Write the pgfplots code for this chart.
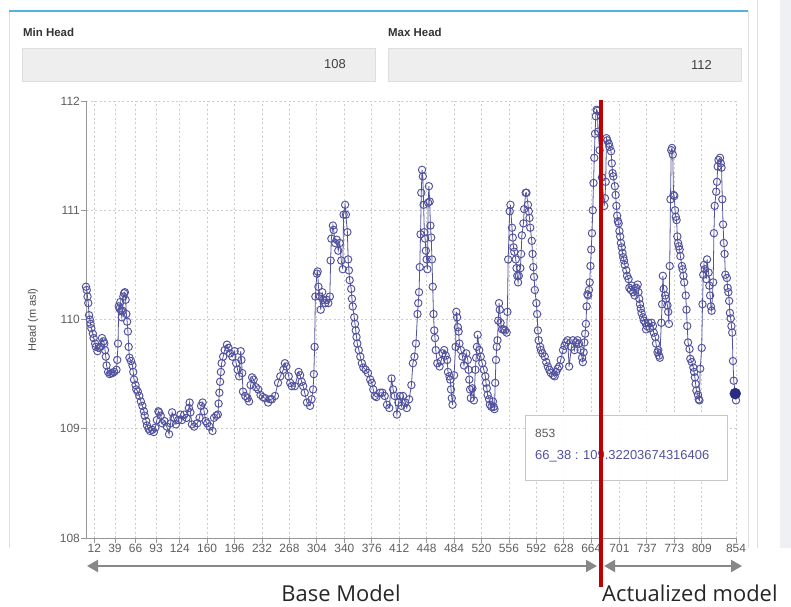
\documentclass[border=0pt]{standalone}
\usepackage{fontspec}
\setmainfont{Liberation Sans}
\newfontfamily\osans{Open Sans}
\usepackage{pgfplots}
\usepackage{pgfplotstable}
\pgfplotsset{compat=1.18}
\usetikzlibrary{arrows.meta}

\definecolor{ser}{RGB}{82,82,158}
\definecolor{hov}{RGB}{40,44,130}
\definecolor{redl}{RGB}{192,0,0}
\definecolor{gridc}{RGB}{205,205,205}
\definecolor{axc}{RGB}{150,150,150}
\definecolor{tickc}{RGB}{95,95,95}
\definecolor{cyanl}{RGB}{80,180,220}
\definecolor{boxf}{RGB}{238,238,238}
\definecolor{boxd}{RGB}{222,222,222}
\definecolor{stripc}{RGB}{238,240,244}
\definecolor{arrc}{RGB}{135,135,135}

% head of well 66_38, one row per point index
\pgfplotstableread{
i y
1 110.30
2 110.27
3 110.21
4 110.15
5 110.04
6 110.00
7 109.96
8 109.92
10 109.87
11 109.83
13 109.78
14 109.75
16 109.71
18 109.74
20 109.75
22 109.83
24 109.80
25 109.78
26 109.72
27 109.66
28 109.58
30 109.52
32 109.50
34 109.51
36 109.51
38 109.52
41 109.54
42 109.63
43 109.78
44 110.12
45 110.10
46 110.16
47 110.08
48 110.02
49 110.08
50 110.21
51 110.24
52 110.25
53 110.18
54 110.05
55 109.98
56 109.89
57 109.75
58 109.65
60 109.62
62 109.58
63 109.52
64 109.45
66 109.40
67 109.36
69 109.34
71 109.30
73 109.25
75 109.21
77 109.16
78 109.12
80 109.07
81 109.03
83 109.00
85 108.98
88 108.99
90 108.97
92 109.01
94 109.08
96 109.16
97 109.15
99 109.12
101 109.05
104 109.07
107 109.02
110 108.95
112 109.05
114 109.15
116 109.10
119 109.04
122 109.08
125 109.13
127 109.08
130 109.13
133 109.10
136 109.19
137 109.24
138 109.15
140 109.04
143 109.02
147 109.05
150 109.10
152 109.21
154 109.24
156 109.16
158 109.07
160 109.05
163 109.02
167 108.98
169 109.10
172 109.12
174 109.13
175 109.23
176 109.33
177 109.43
178 109.52
179 109.60
181 109.66
183 109.72
186 109.77
188 109.74
190 109.69
193 109.66
196 109.71
198 109.60
200 109.54
202 109.48
204 109.71
205 109.63
206 109.51
207 109.34
210 109.30
213 109.28
215 109.25
217 109.40
219 109.47
221 109.45
224 109.38
227 109.36
230 109.31
233 109.29
236 109.28
240 109.24
243 109.27
245 109.27
249 109.30
253 109.42
256 109.48
260 109.54
262 109.60
264 109.57
267 109.48
269 109.42
271 109.39
275 109.39
280 109.52
282 109.49
284 109.43
286 109.39
288 109.33
291 109.24
295 109.21
297 109.27
299 109.36
300 109.50
301 109.75
302 110.21
304 110.42
305 110.44
306 110.30
308 110.21
309 110.09
311 110.25
312 110.18
315 110.15
317 110.18
319 110.15
321 110.21
322 110.54
323 110.74
325 110.86
326 110.82
328 110.70
330 110.73
332 110.63
334 110.70
336 110.54
338 110.46
339 110.96
341 111.05
342 110.96
344 110.80
345 110.55
346 110.45
347 110.36
349 110.28
350 110.19
351 110.12
353 110.02
354 109.96
355 109.90
356 109.84
357 109.78
359 109.72
361 109.66
363 109.60
365 109.56
368 109.54
371 109.51
374 109.45
376 109.42
378 109.36
380 109.30
382 109.29
387 109.33
390 109.33
393 109.30
396 109.22
399 109.19
402 109.46
404 109.36
406 109.30
409 109.13
411 109.24
413 109.30
415 109.21
417 109.30
420 109.24
422 109.19
425 109.27
428 109.40
430 109.60
432 109.66
434 109.78
436 110.05
437 110.15
438 110.25
439 110.48
440 110.78
441 111.16
442 111.37
443 111.31
444 111.05
445 110.80
446 110.74
447 110.63
448 110.55
449 110.46
450 111.07
451 111.22
452 111.08
453 110.86
454 110.75
455 110.55
456 110.30
457 110.05
458 109.90
459 109.83
460 109.72
462 109.60
465 109.57
467 109.62
469 109.69
471 109.72
473 109.67
475 109.63
476 109.52
478 109.48
479 109.45
480 109.36
481 109.28
482 109.22
484 109.49
486 109.75
487 110.07
488 110.02
489 109.93
490 109.89
491 109.78
493 109.72
495 109.66
497 109.58
500 109.69
502 109.63
503 109.54
504 109.45
505 109.36
506 109.28
508 109.37
510 109.26
512 109.54
513 109.65
514 109.75
515 109.86
517 109.72
519 109.66
521 109.60
523 109.54
525 109.48
526 109.42
527 109.37
528 109.31
530 109.27
531 109.22
533 109.20
535 109.25
536 109.20
537 109.18
538 109.42
539 109.63
540 109.75
541 109.81
542 109.99
543 110.15
544 110.09
545 109.97
547 109.91
549 109.91
551 109.90
553 109.88
554 110.07
555 110.55
557 110.99
558 111.05
560 110.84
561 110.75
562 110.66
563 110.62
565 110.55
566 110.47
567 110.40
568 110.34
569 110.40
571 110.47
572 110.60
573 110.77
575 110.88
576 111.01
578 111.16
579 111.16
581 111.05
582 110.99
583 110.93
584 110.84
586 110.72
587 110.60
588 110.48
589 110.39
590 110.27
592 110.15
593 110.05
594 109.90
595 109.81
597 109.75
598 109.72
600 109.69
603 109.66
605 109.61
607 109.57
609 109.54
611 109.51
614 109.49
616 109.48
618 109.52
620 109.55
622 109.57
624 109.63
627 109.72
629 109.76
631 109.79
633 109.81
635 109.57
638 109.75
640 109.81
642 109.72
644 109.79
646 109.81
648 109.78
650 109.72
652 109.65
653 109.61
654 109.70
655 109.79
656 109.87
657 109.96
658 110.12
659 110.23
660 110.22
661 110.27
662 110.34
663 110.49
664 110.64
665 110.79
666 111.00
667 111.25
668 111.48
669 111.70
670 111.86
671 111.92
672 111.91
673 111.72
675 111.55
678 111.30
681 111.04
682 111.11
683 111.26
684 111.66
685 111.64
687 111.61
688 111.58
690 111.54
691 111.43
692 111.34
693 111.31
695 111.22
696 111.14
697 111.04
698 110.95
699 110.90
700 110.88
701 110.81
702 110.76
703 110.70
704 110.66
705 110.61
706 110.57
707 110.54
708 110.50
710 110.45
711 110.40
713 110.37
714 110.29
716 110.27
717 110.31
719 110.25
721 110.22
723 110.29
725 110.32
726 110.25
727 110.19
728 110.14
729 110.10
730 110.06
732 110.02
733 109.99
735 109.97
736 109.91
737 109.94
739 109.97
741 109.92
743 109.97
745 109.94
746 109.88
748 109.84
749 109.78
751 109.70
752 109.72
753 109.67
754 109.65
756 109.97
757 110.14
758 110.40
759 110.28
761 110.22
762 110.19
764 110.13
765 110.07
766 109.96
767 110.49
768 111.10
769 111.55
770 111.57
771 111.51
772 111.14
773 111.13
774 111.00
775 110.94
776 110.91
777 110.76
778 110.70
779 110.67
780 110.64
781 110.58
783 110.49
784 110.46
785 110.40
786 110.34
788 110.22
789 110.09
790 109.94
791 109.79
793 109.73
794 109.64
796 109.61
798 109.56
799 109.52
800 109.47
801 109.41
802 109.35
804 109.31
805 109.27
806 109.26
807 109.55
809 109.74
810 110.14
811 110.41
812 110.50
813 110.46
815 110.37
816 110.55
818 110.43
819 110.31
820 110.22
821 110.12
822 110.08
824 110.34
825 110.79
826 111.04
828 111.17
829 111.26
830 111.40
831 111.46
833 111.48
834 111.43
835 111.39
836 111.10
837 110.87
838 110.70
839 110.60
840 110.41
842 110.38
843 110.29
844 110.25
845 110.17
846 110.06
847 110.01
848 109.94
849 109.88
850 109.62
851 109.44
853 109.32
854 109.26
}\headdata

\begin{document}
\begin{tikzpicture}
% page furniture, in screen pixels (y downwards)
\begin{scope}[x=1bp,y=-1bp]
\useasboundingbox (0,0) rectangle (791,607);
\fill[white] (0,0) rectangle (791,607);
\fill[stripc] (780,0) rectangle (791,548);
\draw[boxd] (757,0) -- (757,548);
\draw[boxd] (9,11) -- (9,548);
\draw[boxd] (748,11) -- (748,548);
\draw[cyanl, line width=2bp] (9,11) -- (748,11);
\node[anchor=base west, inner sep=0, text=black!80,
      font=\bfseries\fontsize{11.5}{13}\selectfont] at (23,37) {Min Head};
\node[anchor=base west, inner sep=0, text=black!80,
      font=\bfseries\fontsize{11.5}{13}\selectfont] at (388,37) {Max Head};
\filldraw[fill=boxf, draw=boxd] (22,48) rectangle (375,81);
\filldraw[fill=boxf, draw=boxd] (388,48) rectangle (741,81);
\node[anchor=east, inner sep=0, text=black!75, font=\fontsize{13}{15}\selectfont]
     at (346,64.5) {108};
\node[anchor=east, inner sep=0, text=black!75, font=\fontsize{13}{15}\selectfont]
     at (712,64.5) {112};
\node[rotate=90, inner sep=0, text=black!70, font=\fontsize{11}{13}\selectfont]
     at (33,320) {Head (m asl)};
\end{scope}

\begin{axis}[
    at={(86bp,-538bp)}, anchor=south west,
    scale only axis, width=650bp, height=437bp,
    xmin=1, xmax=854, ymin=108, ymax=112,
    axis x line*=bottom, axis y line*=left,
    axis line style={axc, line width=0.8bp},
    xtick={12,39,66,93,124,160,196,232,268,304,340,376,412,448,484,520,556,592,628,664,701,737,773,809,854},
    ytick={108,109,110,111,112},
    tick align=outside, major tick length=5bp,
    tick style={axc, line width=0.8bp},
    grid=major,
    major grid style={gridc, line width=0.8bp, dash pattern=on 2bp off 2.5bp},
    /pgf/number format/assume math mode=true,
    /pgf/number format/1000 sep={},
    ticklabel style={font=\fontsize{12}{14}\selectfont, text=tickc},
    xticklabel style={inner sep=1bp},
    yticklabel style={inner sep=1bp},
    clip=false,
]
\addplot[ser, line width=0.8bp, mark=o, mark size=3.7bp,
         mark options={fill=white, draw=ser, line width=0.95bp}]
    table[x=i, y=y] {\headdata};
\addplot[hov, mark=*, mark size=5.5bp, only marks,
         mark options={fill=hov, draw=hov}]
    coordinates {(853,109.322)};
\end{axis}

% tooltip, marker line and model ranges
\begin{scope}[x=1bp,y=-1bp]
\filldraw[fill=white, fill opacity=0.92, draw=black!22, line width=0.8bp]
    (525,415) rectangle (727,480);
\node[anchor=west, inner sep=0, text=black!65, font=\fontsize{12}{14}\selectfont]
     at (535,433) {853};
\node[anchor=west, inner sep=0, text=ser, font=\fontsize{13}{15}\selectfont]
     at (535,456) {66\_38 : 109.32203674316406};
\draw[redl, line width=4.5bp] (601,100) -- (601,587);
\draw[arrc, line width=2bp, {Triangle[length=11bp,width=12bp]}-{Triangle[length=11bp,width=12bp]}]
     (87,566) -- (597,566);
\draw[arrc, line width=2bp, {Triangle[length=11bp,width=12bp]}-{Triangle[length=11bp,width=12bp]}]
     (604,566) -- (742,566);
\node[inner sep=0, text=black!85, font=\osans\fontsize{22}{26}\selectfont]
     at (341,593) {Base Model};
\node[anchor=west, inner sep=0, text=black!85, font=\osans\fontsize{22}{26}\selectfont]
     at (602,593) {Actualized model};
\end{scope}
\end{tikzpicture}
\end{document}
